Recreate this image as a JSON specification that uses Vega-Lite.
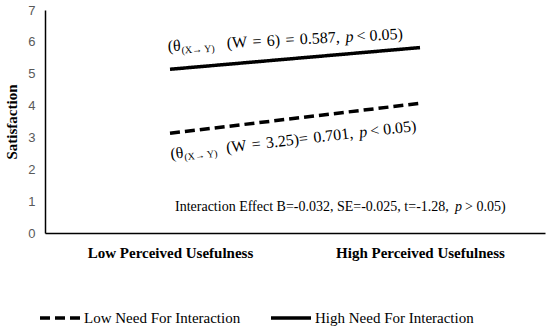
{
  "$schema": "https://vega.github.io/schema/vega-lite/v6.json",
  "width": 500,
  "height": 223,
  "autosize": "none",
  "padding": {"left": 45, "top": 10, "right": 5, "bottom": 96},
  "config": {
    "view": {"stroke": null},
    "font": "Liberation Serif",
    "legend": {
      "orient": "none",
      "legendX": -7,
      "legendY": 286,
      "direction": "horizontal",
      "title": null,
      "labelFont": "Liberation Serif",
      "labelFontSize": 15,
      "labelColor": "black",
      "symbolType": "stroke",
      "symbolSize": 1600,
      "symbolStrokeWidth": 3.5,
      "symbolStrokeColor": "black",
      "labelOffset": 2,
      "columnPadding": 23
    }
  },
  "datasets": {
    "lines": [
      {"pu": "Low Perceived Usefulness", "sat": 3.13, "need": "Low Need For Interaction"},
      {"pu": "High Perceived Usefulness", "sat": 4.07, "need": "Low Need For Interaction"},
      {"pu": "Low Perceived Usefulness", "sat": 5.14, "need": "High Need For Interaction"},
      {"pu": "High Perceived Usefulness", "sat": 5.82, "need": "High Need For Interaction"}
    ],
    "notes": [
      {"note": "solid", "pu": "Low Perceived Usefulness", "sat": 5.71, "a": "(θ", "sub": "(X→ Y)", "mid": "(W\u2004=\u20046)\u2004=\u20040.587,", "p": "p", "tail": "< 0.05)"},
      {"note": "dashed", "pu": "Low Perceived Usefulness", "sat": 2.32, "a": "(θ", "sub": "(X→ Y)", "mid": "(W\u2004=\u20043.25)=\u20040.701,", "p": "p", "tail": "< 0.05)"},
      {"note": "inter", "pu": "Low Perceived Usefulness", "sat": 0.69, "a": "Interaction Effect B=-0.032, SE=-0.025, t=-1.28,", "p": "p", "tail": "> 0.05)"}
    ]
  },
  "encoding": {
    "x": {
      "field": "pu",
      "type": "nominal",
      "sort": null,
      "scale": {"type": "point", "padding": 0.5, "domain": ["Low Perceived Usefulness", "High Perceived Usefulness"]},
      "axis": {
        "title": null,
        "labelAngle": 0,
        "ticks": false,
        "labelFont": "Liberation Serif",
        "labelFontWeight": "bold",
        "labelFontSize": 15,
        "labelColor": "black",
        "labelPadding": 12,
        "domainColor": "black",
        "domainWidth": 1.5,
        "grid": false
      }
    },
    "y": {
      "field": "sat",
      "type": "quantitative",
      "scale": {"domain": [0, 7], "nice": false},
      "axis": {
        "values": [0, 1, 2, 3, 4, 5, 6, 7],
        "ticks": false,
        "grid": false,
        "labelFont": "Liberation Sans",
        "labelFontSize": 13,
        "labelColor": "#595959",
        "labelPadding": 10,
        "domainColor": "black",
        "domainWidth": 1.5,
        "title": "Satisfaction",
        "titleFont": "Liberation Serif",
        "titleFontSize": 15,
        "titleFontWeight": "bold",
        "titleColor": "black",
        "titlePadding": 8
      }
    }
  },
  "layer": [
    {
      "data": {"name": "lines"},
      "mark": {"type": "line", "color": "black", "strokeWidth": 3.5, "strokeCap": "butt"},
      "encoding": {
        "strokeDash": {
          "field": "need",
          "type": "nominal",
          "scale": {"domain": ["Low Need For Interaction", "High Need For Interaction"], "range": [[10, 5], [1, 0]]},
          "legend": {"title": null}
        }
      }
    },
    {"data": {"name": "notes"}, "transform": [{"filter": "datum.note == 'solid'"}],
     "mark": {"type": "text", "align": "left", "baseline": "alphabetic", "angle": 357, "fontSize": 16, "color": "black", "dx": -2},
     "encoding": {"text": {"field": "a"}}},
    {"data": {"name": "notes"}, "transform": [{"filter": "datum.note == 'solid'"}],
     "mark": {"type": "text", "align": "left", "baseline": "alphabetic", "angle": 357, "fontSize": 10, "color": "black", "dx": 11.5, "dy": 3},
     "encoding": {"text": {"field": "sub"}}},
    {"data": {"name": "notes"}, "transform": [{"filter": "datum.note == 'solid'"}],
     "mark": {"type": "text", "align": "left", "baseline": "alphabetic", "angle": 357, "fontSize": 16, "color": "black", "dx": 57},
     "encoding": {"text": {"field": "mid"}}},
    {"data": {"name": "notes"}, "transform": [{"filter": "datum.note == 'solid'"}],
     "mark": {"type": "text", "align": "left", "baseline": "alphabetic", "angle": 357, "fontSize": 16, "fontStyle": "italic", "color": "black", "dx": 176},
     "encoding": {"text": {"field": "p"}}},
    {"data": {"name": "notes"}, "transform": [{"filter": "datum.note == 'solid'"}],
     "mark": {"type": "text", "align": "left", "baseline": "alphabetic", "angle": 357, "fontSize": 16, "color": "black", "dx": 187},
     "encoding": {"text": {"field": "tail"}}},
    {"data": {"name": "notes"}, "transform": [{"filter": "datum.note == 'dashed'"}],
     "mark": {"type": "text", "align": "left", "baseline": "alphabetic", "angle": 353.5, "fontSize": 16, "color": "black", "dx": 1},
     "encoding": {"text": {"field": "a"}}},
    {"data": {"name": "notes"}, "transform": [{"filter": "datum.note == 'dashed'"}],
     "mark": {"type": "text", "align": "left", "baseline": "alphabetic", "angle": 353.5, "fontSize": 10, "color": "black", "dx": 14.5, "dy": 3},
     "encoding": {"text": {"field": "sub"}}},
    {"data": {"name": "notes"}, "transform": [{"filter": "datum.note == 'dashed'"}],
     "mark": {"type": "text", "align": "left", "baseline": "alphabetic", "angle": 353.5, "fontSize": 16, "color": "black", "dx": 57},
     "encoding": {"text": {"field": "mid"}}},
    {"data": {"name": "notes"}, "transform": [{"filter": "datum.note == 'dashed'"}],
     "mark": {"type": "text", "align": "left", "baseline": "alphabetic", "angle": 353.5, "fontSize": 16, "fontStyle": "italic", "color": "black", "dx": 191},
     "encoding": {"text": {"field": "p"}}},
    {"data": {"name": "notes"}, "transform": [{"filter": "datum.note == 'dashed'"}],
     "mark": {"type": "text", "align": "left", "baseline": "alphabetic", "angle": 353.5, "fontSize": 16, "color": "black", "dx": 202},
     "encoding": {"text": {"field": "tail"}}},
    {"data": {"name": "notes"}, "transform": [{"filter": "datum.note == 'inter'"}],
     "mark": {"type": "text", "align": "left", "baseline": "alphabetic", "fontSize": 14, "color": "black", "dx": 5},
     "encoding": {"text": {"field": "a"}}},
    {"data": {"name": "notes"}, "transform": [{"filter": "datum.note == 'inter'"}],
     "mark": {"type": "text", "align": "left", "baseline": "alphabetic", "fontSize": 14, "fontStyle": "italic", "color": "black", "dx": 285},
     "encoding": {"text": {"field": "p"}}},
    {"data": {"name": "notes"}, "transform": [{"filter": "datum.note == 'inter'"}],
     "mark": {"type": "text", "align": "left", "baseline": "alphabetic", "fontSize": 14, "color": "black", "dx": 295},
     "encoding": {"text": {"field": "tail"}}}
  ]
}
